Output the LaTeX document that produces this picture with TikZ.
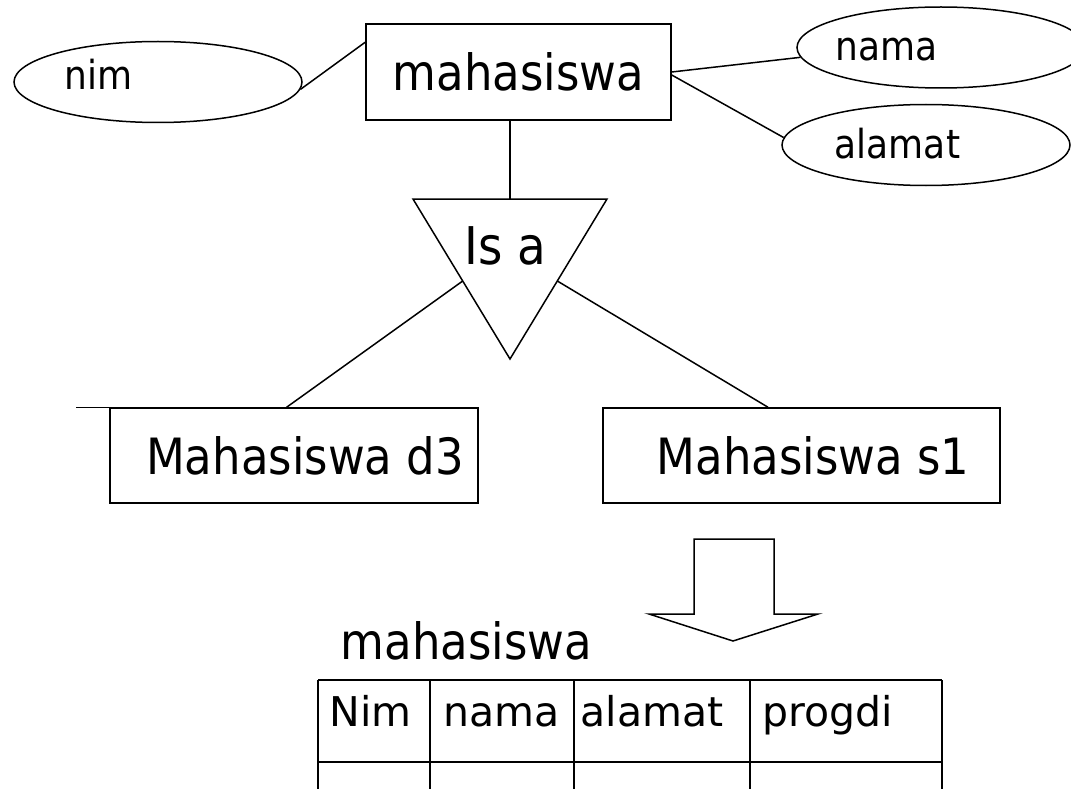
\documentclass[tikz,border=0pt]{standalone}
\usepackage{fontspec}
\setmainfont{DejaVu Sans}[FakeStretch=0.9]
\newfontfamily\tablefont{DejaVu Sans}
\usetikzlibrary{shapes.geometric,calc}
\begin{document}
\begin{tikzpicture}[x=1pt,y=-1pt, line width=1.5pt, line join=miter,
  ent/.style={draw, rectangle, inner sep=0pt, font=\fontsize{50}{60}\selectfont},
  attr/.style={draw, ellipse, minimum width=288pt, minimum height=81pt, inner sep=0pt},
  lbl/.style={anchor=base west, inner sep=0pt, font=\fontsize{40}{48}\selectfont},
  big/.style={anchor=base west, inner sep=0pt, font=\fontsize{50}{60}\selectfont},
  cell/.style={anchor=base west, inner sep=0pt, font=\tablefont\fontsize{41}{48}\selectfont}]
\useasboundingbox (0,0) rectangle (1071,789);

% entity and attributes
\node[ent, minimum width=305pt, minimum height=96pt] (mb) at (518.5,72) {mahasiswa};
\node[attr] (nim) at (158,82) {};
\node[attr] (nama) at (941,47.5) {};
\node[attr] (alamat) at (926,145) {};
\node[lbl] (nimT) at (64,90) {nim};
\node[lbl] (namaT) at (835,61) {nama};
\node[lbl] (alamatT) at (834,158) {alamat};

\draw (nim.-3.5) -- (mb.169);
\draw (mb.east) -- (nama.184);
\draw ($(mb.east)+(0,3)$) -- (alamat.177);

% ISA triangle
\coordinate (T1) at (413,199);
\coordinate (T2) at (607,199);
\coordinate (T3) at (510,359);
\coordinate (tTop) at (510,199);
\draw (T1) -- (T2) -- (T3) -- cycle;
\node[big, font=\fontsize{52}{60}\selectfont] (isa) at (464,264) {Is a};
\draw (mb.south -| tTop) -- (tTop);

% subclasses
\node[ent, minimum width=368pt, minimum height=95pt] (d3) at (294,455.5) {\hspace*{22pt}Mahasiswa d3};
\node[ent, minimum width=397pt, minimum height=95pt] (s1) at (801.5,455.5) {\hspace*{23pt}Mahasiswa s1};
\draw ($(T1)!0.5125!(T3)$) -- ($(d3.north west)!0.48!(d3.north east)$);
\draw ($(T2)!0.5125!(T3)$) -- ($(s1.north west)!0.416!(s1.north east)$);
\draw (d3.north west) -- ++(-33,0);

% block arrow
\draw (694,539) -- (774,539) -- (774,614) -- (818,614) -- (733,641) -- (649,614) -- (694,614) -- cycle;

% table
\node[big] (tblname) at (340,659) {mahasiswa};
\draw (318,680) -- (942,680);
\draw (318,762) -- (942,762);
\foreach \x in {318,430,574,750,942} \draw (\x,680) -- (\x,789);
\node[cell] (c1) at (329,726) {Nim};
\node[cell] (c2) at (443,726) {nama};
\node[cell] (c3) at (580,726) {alamat};
\node[cell] (c4) at (762,726) {progdi};
\end{tikzpicture}
\end{document}
